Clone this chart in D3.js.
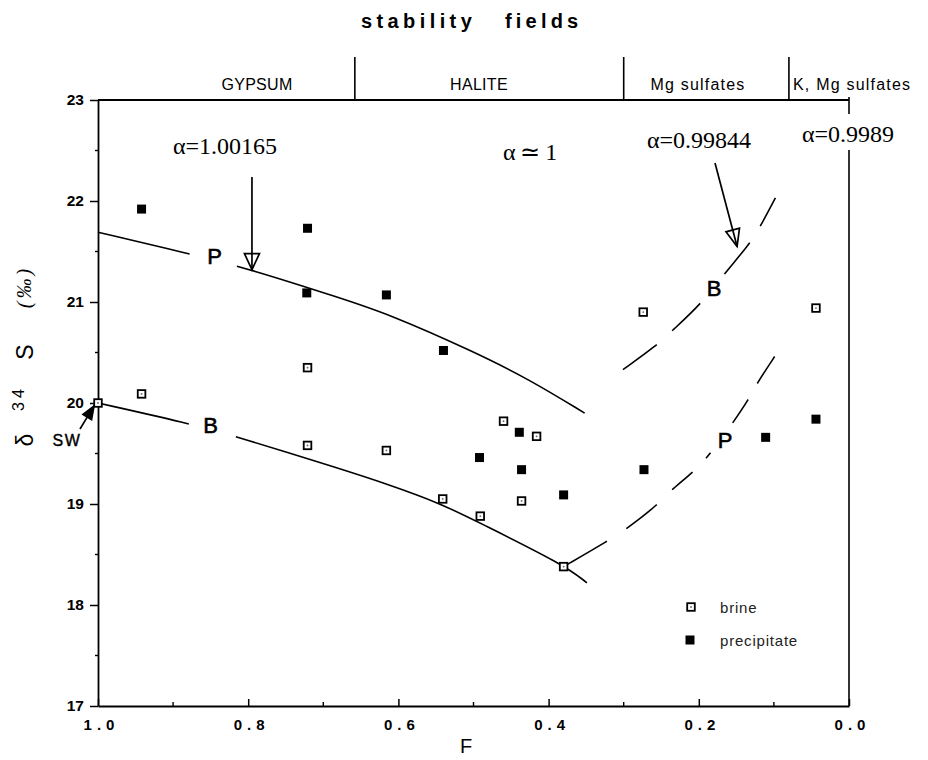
<!DOCTYPE html>
<html>
<head>
<meta charset="utf-8">
<script src="https://cdn.jsdelivr.net/npm/d3@7"></script>
<style>
  body { margin: 0; background: #fff; }
  svg text { fill: #000; }
</style>
</head>
<body>
<svg id="chart" width="928" height="760"></svg>
<script>
// δ34S of brine and precipitate against F, the fraction of brine remaining

// measured samples
const brineF = [1.000, 0.942, 0.721, 0.721, 0.616, 0.541, 0.491, 0.460, 0.436, 0.416, 0.380, 0.274, 0.044];
const brineD = [20.00, 20.09, 20.35, 19.58, 19.53, 19.05, 18.88, 19.82, 19.03, 19.67, 18.38, 20.90, 20.94];
const precipF = [0.942, 0.721, 0.722, 0.616, 0.540, 0.492, 0.439, 0.436, 0.380, 0.273, 0.111, 0.044];
const precipD = [21.92, 21.73, 21.09, 21.07, 20.52, 19.46, 19.71, 19.34, 19.09, 19.34, 19.66, 19.84];

// Rayleigh model curves (P = precipitate, B = brine)
const pUpperF = [1.000, 0.879, 0.795, 0.678, 0.616, 0.500, 0.425, 0.352];
const pUpperD = [21.69, 21.48, 21.32, 21.04, 20.89, 20.51, 20.23, 19.90];
const bLowerF = [1.000, 0.880, 0.817, 0.678, 0.616, 0.545, 0.491, 0.380, 0.349];
const bLowerD = [20.00, 19.80, 19.67, 19.35, 19.20, 19.01, 18.81, 18.40, 18.22];
const bRightF = [0.301, 0.256, 0.235, 0.197, 0.166, 0.134, 0.120, 0.098];
const bRightD = [20.33, 20.57, 20.72, 20.98, 21.28, 21.56, 21.72, 22.03];
const pRightF = [0.380, 0.322, 0.295, 0.255, 0.234, 0.208, 0.184, 0.155, 0.134, 0.123, 0.099];
const pRightD = [18.38, 18.63, 18.76, 18.99, 19.16, 19.31, 19.50, 19.80, 20.03, 20.19, 20.46];

// axes
const xTicks = [1.0, 0.8, 0.6, 0.4, 0.2, 0.0];
const xMinor = [0.9, 0.7, 0.5, 0.3, 0.1];
const yTicks = [17, 18, 19, 20, 21, 22, 23];
const yMinor = [17.5, 18.5, 19.5, 20.5, 21.5, 22.5];

// mineral stability fields
const fieldNames = ["GYPSUM", "HALITE", "Mg sulfates", "K, Mg sulfates"];
const fieldBounds = [0.658, 0.300, 0.080];

// fractionation factors
const alphaLabels = ["α=1.00165", "α\u2009≃\u20091", "α=0.99844", "α=0.9989"];

const svg = d3.select("#chart");
const SANS = "'Liberation Sans', Arial, sans-serif";
const SERIF = "'Liberation Serif', 'Times New Roman', serif";

const x = d3.scaleLinear().domain([1, 0]).range([98, 849]);
const y = d3.scaleLinear().domain([17, 23]).range([706, 100]);

// ---- title and stability field strip ----
svg.append("text").attr("x", 361).attr("y", 28)
  .attr("font-family", SANS).attr("font-weight", "bold").attr("font-size", 20)
  .attr("letter-spacing", 4.4).text("stability");
svg.append("text").attr("x", 505).attr("y", 28)
  .attr("font-family", SANS).attr("font-weight", "bold").attr("font-size", 20)
  .attr("letter-spacing", 4.2).text("fields");

svg.selectAll("line.field").data(fieldBounds).join("line")
  .attr("class", "field")
  .attr("x1", d => x(d)).attr("x2", d => x(d))
  .attr("y1", 57).attr("y2", 100)
  .attr("stroke", "#000").attr("stroke-width", 1.6);

const fieldLabelX = [257, 479, 698, 793];
const fieldAnchor = ["middle", "middle", "middle", "start"];
svg.selectAll("text.field").data(fieldNames).join("text")
  .attr("class", "field")
  .attr("x", (d, i) => fieldLabelX[i]).attr("y", 90)
  .attr("text-anchor", fieldAnchor[0] && ((d, i) => fieldAnchor[i]))
  .attr("font-family", SANS).attr("font-size", 16)
  .attr("letter-spacing", (d, i) => i < 2 ? 0.3 : 1.2)
  .text(d => d);

// ---- axes ----
const gx = svg.append("g").attr("transform", `translate(0,${y(17)})`)
  .call(d3.axisBottom(x).tickValues(xTicks).tickFormat(d3.format(".1f"))
    .tickSizeInner(-7).tickSizeOuter(0).tickPadding(13));
gx.select(".domain").attr("stroke-width", 1.8);
gx.selectAll(".tick line").attr("stroke-width", 1.5);
gx.selectAll(".tick text")
  .attr("font-family", SANS).attr("font-weight", "bold").attr("font-size", 15)
  .attr("letter-spacing", 5).attr("dx", 3);

const gy = svg.append("g").attr("transform", `translate(${x(1)},0)`)
  .call(d3.axisLeft(y).tickValues(yTicks).tickFormat(d3.format("d"))
    .tickSizeInner(8).tickSizeOuter(0).tickPadding(6));
gy.select(".domain").attr("stroke-width", 1.8);
gy.selectAll(".tick line").attr("stroke-width", 1.5);
gy.selectAll(".tick text")
  .attr("font-family", SANS).attr("font-weight", "bold").attr("font-size", 15.5);

svg.selectAll("line.xminor").data(xMinor).join("line")
  .attr("class", "xminor")
  .attr("x1", d => x(d)).attr("x2", d => x(d))
  .attr("y1", y(17)).attr("y2", y(17) - 4)
  .attr("stroke", "#000").attr("stroke-width", 1.4);
svg.selectAll("line.yminor").data(yMinor).join("line")
  .attr("class", "yminor")
  .attr("x1", x(1)).attr("x2", x(1) - 3)
  .attr("y1", d => y(d)).attr("y2", d => y(d))
  .attr("stroke", "#000").attr("stroke-width", 1.4);

// top and right frame
svg.append("line").attr("x1", x(1)).attr("x2", x(0)).attr("y1", y(23)).attr("y2", y(23))
  .attr("stroke", "#000").attr("stroke-width", 1.8);
svg.append("line").attr("x1", x(0)).attr("x2", x(0)).attr("y1", y(23) - 3).attr("y2", y(17))
  .attr("stroke", "#000").attr("stroke-width", 1.6);

// axis titles
svg.append("text").attr("x", 466).attr("y", 753)
  .attr("text-anchor", "middle").attr("font-family", SANS).attr("font-size", 20)
  .text("F");

const yTitle = [
  { t: "δ", cx: 33, cy: 440, size: 23, family: SANS, style: "normal" },
  { t: "34", cx: 24, cy: 398, size: 16, family: SANS, style: "normal", spacing: 4 },
  { t: "S", cx: 33, cy: 352, size: 23, family: SANS, style: "normal" },
  { t: "(‰)", cx: 31, cy: 287, size: 20, family: SERIF, style: "italic", spacing: 3 }
];
svg.selectAll("text.ytitle").data(yTitle).join("text")
  .attr("class", "ytitle")
  .attr("transform", d => `translate(${d.cx},${d.cy}) rotate(-90)`)
  .attr("text-anchor", "middle")
  .attr("font-family", d => d.family).attr("font-style", d => d.style)
  .attr("font-size", d => d.size).attr("letter-spacing", d => d.spacing || 0)
  .text(d => d.t);

// ---- model curves ----
const line = d3.line().x(d => x(d[0])).y(d => y(d[1])).curve(d3.curveBasis);
const curves = [
  { F: pUpperF, D: pUpperD, dash: "94,49,3000" },
  { F: bLowerF, D: bLowerD, dash: "93,49,3000" },
  { F: bRightF, D: bRightD, dash: "42,21,39,38,40,20,33,400" },
  { F: pRightF, D: pRightD, dash: "50,23.5,38.5,21.5,27,19.6,6.9,37,28,18.7,32,400" }
];
svg.selectAll("path.curve").data(curves).join("path")
  .attr("class", "curve")
  .attr("d", c => line(c.F.map((f, i) => [f, c.D[i]])))
  .attr("fill", "none").attr("stroke", "#000").attr("stroke-width", 1.6)
  .attr("stroke-dasharray", c => c.dash);

// curve labels
const curveLabels = [
  { t: "P", px: 214.5, py: 264 },
  { t: "B", px: 210.5, py: 433 },
  { t: "B", px: 714, py: 296 },
  { t: "P", px: 725, py: 448 }
];
svg.selectAll("text.clabel").data(curveLabels).join("text")
  .attr("class", "clabel")
  .attr("x", d => d.px).attr("y", d => d.py)
  .attr("text-anchor", "middle").attr("font-family", SANS).attr("font-size", 22)
  .style("stroke", "#000").style("stroke-width", 0.6)
  .text(d => d.t);

// ---- fractionation factor labels and arrows ----
const alphaPos = [
  { px: 173, py: 154 },
  { px: 503, py: 160 },
  { px: 647, py: 148 },
  { px: 802, py: 142 }
];
// white backing where the last label crosses the right frame
svg.append("rect").attr("x", 842).attr("y", 114).attr("width", 14).attr("height", 36).attr("fill", "#fff");
svg.selectAll("text.alpha").data(alphaLabels).join("text")
  .attr("class", "alpha")
  .attr("x", (d, i) => alphaPos[i].px).attr("y", (d, i) => alphaPos[i].py)
  .attr("font-family", SERIF).attr("font-size", 24)
  .text(d => d);

function arrow(tail, tip, len, halfW, filled) {
  const dx = tip[0] - tail[0], dy = tip[1] - tail[1];
  const L = Math.hypot(dx, dy), ux = dx / L, uy = dy / L;
  const bx = tip[0] - ux * len, by = tip[1] - uy * len;
  const g = svg.append("g");
  g.append("line").attr("x1", tail[0]).attr("y1", tail[1])
    .attr("x2", filled ? bx : tip[0]).attr("y2", filled ? by : tip[1])
    .attr("stroke", "#000").attr("stroke-width", 1.7);
  g.append("path")
    .attr("d", `M${tip[0]},${tip[1]}L${bx - uy * halfW},${by + ux * halfW}L${bx + uy * halfW},${by - ux * halfW}Z`)
    .attr("fill", filled ? "#000" : "none").attr("stroke", "#000").attr("stroke-width", 1.7)
    .attr("stroke-linejoin", "miter");
}
arrow([x(0.795), 177], [x(0.795), y(21.32)], 16, 7.5, false);
arrow([715, 163], [x(0.149), y(21.55)], 17, 7, false);
arrow([80, 429], [94, 406], 13, 5, true);

svg.append("text").attr("x", 67).attr("y", 446)
  .attr("text-anchor", "middle").attr("font-family", SANS).attr("font-size", 16)
  .attr("letter-spacing", 1.5).style("stroke", "#000").style("stroke-width", 0.4)
  .text("SW");

// ---- sample markers ----
const brine = brineF.map((f, i) => [f, brineD[i]]);
const precip = precipF.map((f, i) => [f, precipD[i]]);

svg.selectAll("rect.precip").data(precip).join("rect")
  .attr("class", "precip")
  .attr("x", d => x(d[0]) - 4.5).attr("y", d => y(d[1]) - 4.5)
  .attr("width", 9).attr("height", 9).attr("fill", "#000");

const bg = svg.selectAll("g.brine").data(brine).join("g")
  .attr("class", "brine")
  .attr("transform", d => `translate(${x(d[0])},${y(d[1])})`);
bg.append("rect").attr("x", -3.8).attr("y", -3.8).attr("width", 7.6).attr("height", 7.6)
  .attr("fill", "#fff").attr("stroke", "#000").attr("stroke-width", 1.8);
bg.append("circle").attr("r", 0.9).attr("fill", "#666");

// ---- legend ----
const leg = svg.append("g");
const lb = leg.append("g").attr("transform", "translate(691,607)");
lb.append("rect").attr("x", -3.8).attr("y", -3.8).attr("width", 7.6).attr("height", 7.6)
  .attr("fill", "#fff").attr("stroke", "#000").attr("stroke-width", 1.8);
lb.append("circle").attr("r", 0.9).attr("fill", "#666");
leg.append("rect").attr("x", 690 - 4.5).attr("y", 640 - 4.5).attr("width", 9).attr("height", 9).attr("fill", "#000");
leg.append("text").attr("x", 720).attr("y", 613)
  .attr("font-family", SANS).attr("font-size", 15).attr("letter-spacing", 0.8)
  .style("fill", "#222").text("brine");
leg.append("text").attr("x", 720).attr("y", 646)
  .attr("font-family", SANS).attr("font-size", 15).attr("letter-spacing", 0.8)
  .style("fill", "#222").text("precipitate");
</script>
</body>
</html>
